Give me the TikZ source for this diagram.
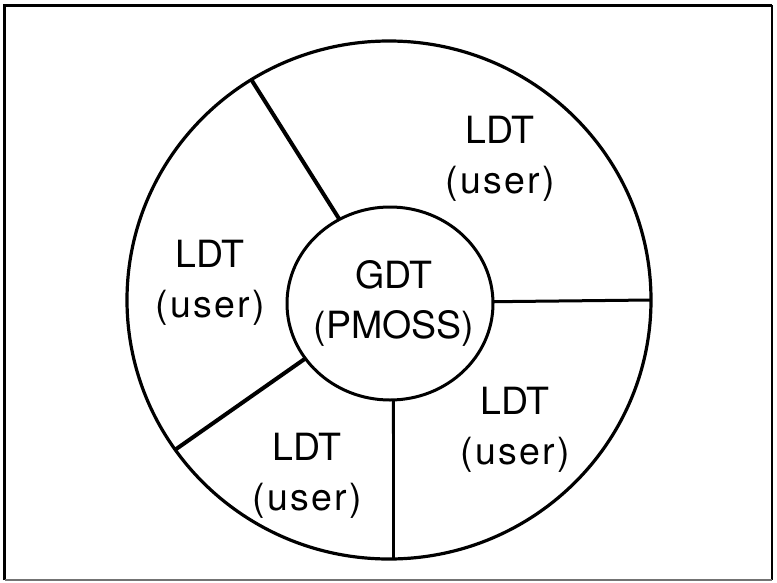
\documentclass[tikz,border=0pt]{standalone}
\usepackage{fontspec}
\setmainfont{TeX Gyre Heros}
\usetikzlibrary{shapes.geometric}
% the second line of each sector label is set with a little extra tracking
\newcommand{\userline}{{\addfontfeature{LetterSpace=6}(user)}}
\begin{document}
\begin{tikzpicture}[x=1pt,y=-1pt,
  oval/.style={draw, ellipse, inner sep=0pt, outer sep=0pt},
  spoke/.style={line width=3pt},
  heavyspoke/.style={line width=4pt},
  lbl/.style={align=center, inner sep=0pt, anchor=base,
              font=\fontsize{37.5}{49.5}\selectfont}]
\useasboundingbox (0,0) rectangle (777,582);

% outer frame
\draw[line width=3pt] (4.5,580) -- (4.5,5) -- (772,5);
\draw[line width=1.6pt] (772,5) -- (772,580);
\draw[line width=1.4pt, black!55] (4.5,580) -- (772,580);

% outer ring and central hub
\node[oval, line width=3.2pt, minimum width=524pt, minimum height=518pt] (rim) at (389,300) {};
\node[oval, line width=3pt, minimum width=206pt, minimum height=193pt] (hub) at (390,303.5) {};

% partitions between the LDT sectors
\draw[heavyspoke] (hub.121.8) -- (rim.122.65);
\draw[spoke] (hub.1.4) -- (rim.-0.2);
\draw[spoke, line width=2.8pt] (hub.272.9) -- (rim.271.3);
\draw[heavyspoke] (hub.213.8) -- (rim.215.7);

% labels
\node[lbl] (gdtlabel) at (394,338) {GDT\\(PMOSS)};
\node[lbl] (ldtne) at (500,193) {LDT\\\userline};
\node[lbl] (ldtw) at (210,317) {LDT\\\userline};
\node[lbl] (ldtse) at (515,464) {LDT\\\userline};
\node[lbl] (ldts) at (307,510) {LDT\\\userline};
\end{tikzpicture}
\end{document}
